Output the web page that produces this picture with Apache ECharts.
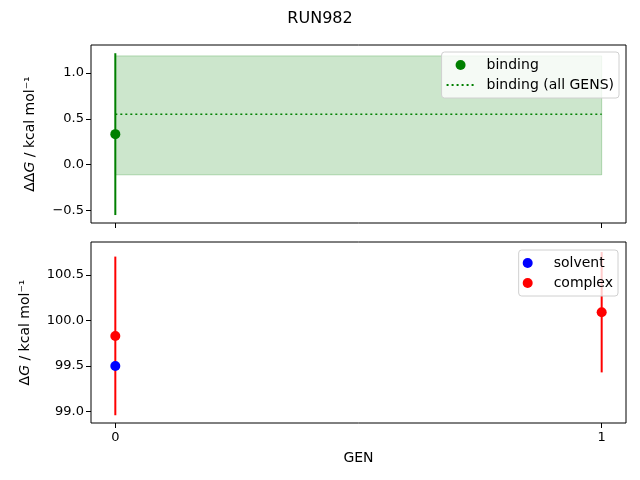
<!DOCTYPE html>
<html>
<head>
    <meta charset="utf-8" />
    <title>RUN982</title>
    <script src="https://cdn.jsdelivr.net/npm/echarts@6/dist/echarts.min.js"></script>
    <style>
        html, body { margin: 0; padding: 0; background: #fff; }
        #main { width: 640px; height: 480px; }
    </style>
</head>
<body>
    <div id="main"></div>
    <script type="text/javascript">
        // data
        var gens = [0, 1];
        var bindingGen = [0];
        var bindingVal = [0.332];
        var bindingErr = [0.885];
        var bindingAll = 0.55;
        var bindingAllLo = -0.113;
        var bindingAllHi = 1.188;
        var solventGen = [0];
        var solventVal = [99.5];
        var complexGen = [0, 1];
        var complexVal = [99.83, 100.09];
        var complexErr = [0.87, 0.66];
        var topTicks = [-0.5, 0, 0.5, 1.0];
        var bottomTicks = [99.0, 99.5, 100.0, 100.5];

        var font = 'DejaVu Sans';
        var fmt = function (v) { return v.toFixed(1).replace('-', '\u2212'); };

        function errBars(xs, vals, errs, color, idx) {
            return {
                type: 'custom',
                xAxisIndex: idx, yAxisIndex: idx,
                silent: true,
                z: 3,
                data: xs.map(function (x, i) { return [x, vals[i] - errs[i], vals[i] + errs[i]]; }),
                renderItem: function (params, api) {
                    var p1 = api.coord([api.value(0), api.value(1)]);
                    var p2 = api.coord([api.value(0), api.value(2)]);
                    return {
                        type: 'line',
                        shape: { x1: p1[0], y1: p1[1], x2: p2[0], y2: p2[1] },
                        style: { stroke: color, lineWidth: 2 }
                    };
                }
            };
        }

        function xAxis(idx, labels) {
            return {
                type: 'value', gridIndex: idx, min: -0.05, max: 1.05,
                name: labels ? 'GEN' : '', nameLocation: 'middle', nameGap: 28,
                nameTextStyle: { fontFamily: font, fontSize: 14, color: '#000' },
                axisLine: { show: false, onZero: false },
                axisTick: { show: true, length: 5, customValues: gens, lineStyle: { color: '#000' } },
                axisLabel: { show: labels, customValues: gens, fontFamily: font, fontSize: 13, color: '#000', margin: 8 },
                splitLine: { show: false }
            };
        }

        function yAxis(idx, min, max, ticks, name, gap) {
            return {
                type: 'value', gridIndex: idx, min: min, max: max,
                name: name, nameLocation: 'middle', nameGap: gap, nameRotate: 90,
                nameTextStyle: {
                    fontFamily: font, fontSize: 14, color: '#000',
                    rich: { i: { fontFamily: font, fontSize: 14, fontStyle: 'italic', color: '#000' } }
                },
                axisLine: { show: false, onZero: false },
                axisTick: { show: true, length: 5, customValues: ticks, lineStyle: { color: '#000' } },
                axisLabel: { customValues: ticks, formatter: fmt, fontFamily: font, fontSize: 13, color: '#000', margin: 7 },
                splitLine: { show: false }
            };
        }

        var legendBase = {
            orient: 'vertical',
            itemWidth: 28, itemHeight: 10, itemGap: 6,
            backgroundColor: 'rgba(255,255,255,0.8)',
            borderColor: '#d0d0d0', borderWidth: 1, borderRadius: 3,
            padding: [6, 5, 6, 4],
            textStyle: { fontFamily: font, fontSize: 14, color: '#000', padding: [0, 0, 0, 7] }
        };

        var myChart = echarts.init(document.getElementById('main'));
        var option = {
            animation: false,
            backgroundColor: '#fff',
            title: {
                text: 'RUN982', left: 'center', top: 6,
                textStyle: { fontFamily: font, fontSize: 16, fontWeight: 'normal', color: '#000' }
            },
            grid: [
                { left: 91, top: 45, width: 535, height: 178, show: true, borderColor: '#000', borderWidth: 1, backgroundColor: 'transparent' },
                { left: 91, top: 242, width: 535, height: 181, show: true, borderColor: '#000', borderWidth: 1, backgroundColor: 'transparent' }
            ],
            legend: [
                Object.assign({}, legendBase, {
                    right: 21, top: 52,
                    data: [
                        { name: 'binding', icon: 'circle' },
                        { name: 'binding (all GENS)', itemStyle: { color: 'transparent', borderWidth: 0 } }
                    ]
                }),
                Object.assign({}, legendBase, {
                    right: 22, top: 250,
                    data: [{ name: 'solvent', icon: 'circle' }, { name: 'complex', icon: 'circle' }]
                })
            ],
            xAxis: [xAxis(0, false), xAxis(1, true)],
            yAxis: [
                yAxis(0, -0.64, 1.307, topTicks, '\u0394\u0394{i|G} / kcal mol\u207B\u00B9', 54),
                yAxis(1, 98.875, 100.86, bottomTicks, '\u0394{i|G} / kcal mol\u207B\u00B9', 59)
            ],
            series: [
                {
                    name: 'binding (all GENS)',
                    type: 'line', xAxisIndex: 0, yAxisIndex: 0,
                    symbol: 'none', silent: true, z: 2,
                    data: gens.map(function (g) { return [g, bindingAll]; }),
                    lineStyle: { color: '#008000', width: 1.6, type: [2, 3] },
                    itemStyle: { color: '#008000' },
                    markArea: {
                        silent: true,
                        itemStyle: { color: 'rgba(0,128,0,0.2)', borderColor: 'rgba(0,128,0,0.25)', borderWidth: 1 },
                        data: [[{ coord: [gens[0], bindingAllLo] }, { coord: [gens[gens.length - 1], bindingAllHi] }]]
                    }
                },
                errBars(bindingGen, bindingVal, bindingErr, '#008000', 0),
                {
                    name: 'binding', type: 'scatter', xAxisIndex: 0, yAxisIndex: 0,
                    symbolSize: 10, z: 4,
                    itemStyle: { color: '#008000', opacity: 1 },
                    data: bindingGen.map(function (g, i) { return [g, bindingVal[i]]; })
                },
                errBars(complexGen, complexVal, complexErr, '#ff0000', 1),
                {
                    name: 'complex', type: 'scatter', xAxisIndex: 1, yAxisIndex: 1,
                    symbolSize: 10, z: 4,
                    itemStyle: { color: '#ff0000', opacity: 1 },
                    data: complexGen.map(function (g, i) { return [g, complexVal[i]]; })
                },
                {
                    name: 'solvent', type: 'scatter', xAxisIndex: 1, yAxisIndex: 1,
                    symbolSize: 10, z: 5,
                    itemStyle: { color: '#0000ff', opacity: 1 },
                    data: solventGen.map(function (g, i) { return [g, solventVal[i]]; })
                }
            ]
        };
        myChart.setOption(option);
    </script>
</body>
</html>
